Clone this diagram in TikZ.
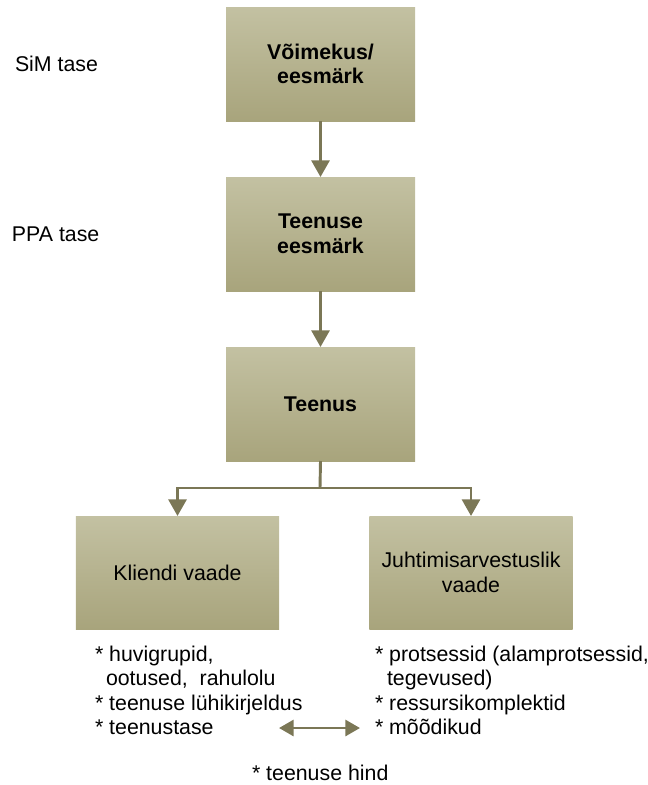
\documentclass[tikz,border=0pt]{standalone}
\usepackage{fontspec}
\setmainfont{Liberation Sans}
\usetikzlibrary{arrows.meta}
\definecolor{boxtop}{HTML}{C3C1A2}
\definecolor{boxbot}{HTML}{A8A47C}
\definecolor{linkcol}{HTML}{7B7756}
\tikzset{
  x=0.75pt, y=-0.75pt,
  every node/.style={inner sep=0pt, outer sep=0pt, font=\fontsize{16pt}{18.4pt}\selectfont},
  mainbox/.style={top color=boxtop, bottom color=boxbot, draw=none,
    minimum width=141.75pt, minimum height=85.5pt, align=center,
    font=\fontsize{16pt}{18.4pt}\selectfont\bfseries},
  viewbox/.style={top color=boxtop, bottom color=boxbot, draw=none,
    minimum width=152.5pt, minimum height=84.75pt, align=center},
  link/.style={draw=linkcol, line width=2.2pt,
    -{Triangle[width=13.5pt, length=12.5pt]}},
  duallink/.style={draw=linkcol, line width=2.2pt,
    {Triangle[width=12pt, length=11pt]}-{Triangle[width=12pt, length=11pt]}},
  textline/.style={anchor=base west}
}
\begin{document}
\begin{tikzpicture}
\useasboundingbox (0,0) rectangle (648,785);

% level labels
\node[textline] (sim) at (15,71) {SiM tase};
\node[textline] (ppa) at (12,241) {PPA tase};

% main chain
\node[mainbox] (goal) at (320.5,64) {Võimekus/\\eesmärk};
\node[mainbox] (sgoal) at (320.5,234) {Teenuse\\eesmärk};
\node[mainbox] (serv) at (320.5,404) {Teenus};

% two views
\node[viewbox] (client) at (177.5,572.5) {Kliendi vaade};
\node[viewbox] (mgmt) at (471,572.5) {Juhtimisarvestuslik\\vaade};

\draw[link] (goal.south) -- (sgoal.north);
\draw[link] (sgoal.south) -- (serv.north);
\coordinate (branch) at (320,488);
\draw[draw=linkcol, line width=2.2pt] (serv.south) -- (branch);
\draw[link] (branch) -| (client.north);
\draw[link] (branch) -| (mgmt.north);

% client view items
\node[textline] (c1) at (95,661) {* huvigrupid,};
\node[textline] (c2) at (106,685.5) {ootused,\ \ rahulolu};
\node[textline] (c3) at (95,710) {* teenuse lühikirjeldus};
\node[textline] (c4) at (95,734.5) {* teenustase};

% management view items
\node[textline] (m1) at (375,661) {* protsessid (alamprotsessid,};
\node[textline] (m2) at (387,685.5) {tegevused)};
\node[textline] (m3) at (375,710) {* ressursikomplektid};
\node[textline] (m4) at (375,734.5) {* mõõdikud};

% link between the two views
\coordinate (pl) at (279,728);
\coordinate (pr) at (360,728);
\draw[duallink] (pl) -- (pr);

\node[textline] (price) at (252,780) {* teenuse hind};
\end{tikzpicture}
\end{document}
